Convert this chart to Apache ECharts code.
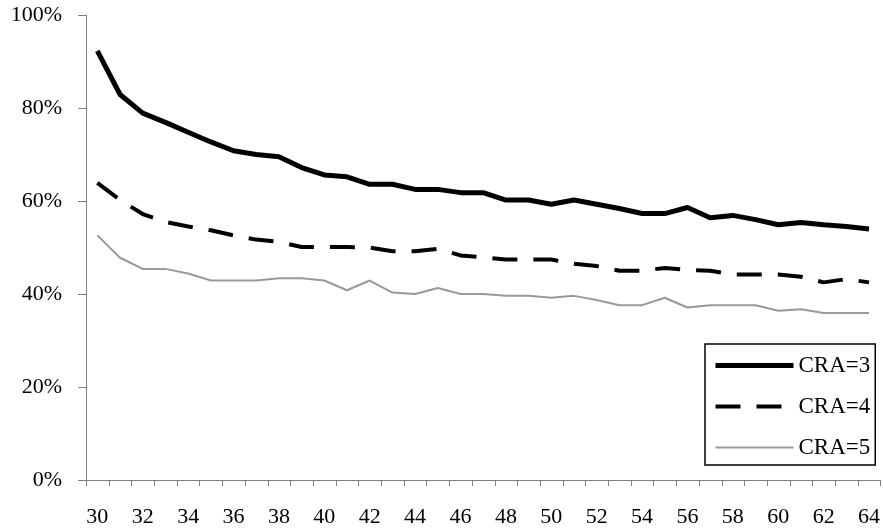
<!DOCTYPE html>
<html>
<head>
<meta charset="utf-8">
<script src="https://cdn.jsdelivr.net/npm/echarts@6/dist/echarts.min.js"></script>
<style>
  html, body { margin: 0; padding: 0; background: #fff; }
  #chart { width: 883px; height: 529px; }
</style>
</head>
<body>
<div id="chart"></div>
<script>
const ages = []
for (let a = 30; a <= 64; a++) ages.push(String(a))

const cra3 = [92.3, 82.9, 78.9, 76.9, 74.8, 72.7, 70.8, 70.0, 69.5, 67.2, 65.6, 65.2, 63.6, 63.6, 62.5, 62.5, 61.8, 61.8,
  60.2, 60.2, 59.3, 60.2, 59.3, 58.4, 57.3, 57.3, 58.6, 56.4, 56.9, 56.0, 54.9, 55.4, 54.9, 54.5, 54.0]
const cra4 = [63.9, 60.2, 57.2, 55.5, 54.5, 53.7, 52.6, 51.7, 51.2, 50.1, 50.1, 50.1, 50.0, 49.2, 49.2, 49.7, 48.3, 47.9,
  47.4, 47.4, 47.4, 46.5, 46.0, 45.0, 45.0, 45.6, 45.2, 45.0, 44.2, 44.2, 44.2, 43.7, 42.5, 43.2, 42.5]
const cra5 = [52.6, 47.8, 45.4, 45.4, 44.4, 42.9, 42.9, 42.9, 43.4, 43.4, 42.9, 40.8, 42.9, 40.3, 40.0, 41.3, 40.0, 40.0,
  39.6, 39.6, 39.2, 39.6, 38.7, 37.6, 37.6, 39.2, 37.1, 37.6, 37.6, 37.6, 36.4, 36.7, 35.9, 35.9, 35.9]

const seriesNames = ['CRA=3', 'CRA=4', 'CRA=5']
const yTicks = [0, 20, 40, 60, 80, 100]

const font = "'Liberation Serif', 'Times New Roman', serif"

const styles = [
  { color: '#000', width: 5, type: 'solid' },
  { color: '#000', width: 4, type: [25, 16] },
  { color: '#999', width: 2, type: 'solid' }
]

const chart = echarts.init(document.getElementById('chart'))
chart.setOption({
  animation: false,
  grid: { left: 86, right: 0, top: 15, bottom: 49 },
  legend: {
    show: true,
    orient: 'vertical',
    left: 705,
    top: 344,
    padding: [10, 5, 6, 8],
    itemWidth: 78,
    itemHeight: 22,
    itemGap: 18,
    borderColor: '#000',
    borderWidth: 1.5,
    backgroundColor: '#fff',
    itemStyle: { color: 'transparent', borderWidth: 0 },
    lineStyle: { width: 'inherit', type: 'inherit' },
    textStyle: { fontFamily: font, fontSize: 23, color: '#000' },
    data: seriesNames
  },
  xAxis: {
    type: 'category',
    data: ages,
    axisLine: { show: true, lineStyle: { color: 'gray', width: 1 } },
    axisTick: { show: false },
    axisLabel: { interval: 1, margin: 26, fontFamily: font, fontSize: 22, color: '#000' }
  },
  yAxis: {
    type: 'value',
    min: 0,
    max: 100,
    interval: 20,
    axisLine: { show: true, lineStyle: { color: 'gray', width: 1 } },
    axisTick: { show: false },
    axisLabel: { margin: 24, fontFamily: font, fontSize: 22, color: '#000', formatter: '{value}%' },
    splitLine: { show: false }
  },
  series: [cra3, cra4, cra5].map((d, i) => ({
    name: seriesNames[i],
    type: 'line',
    data: d,
    symbol: 'none',
    lineStyle: styles[i],
    itemStyle: { color: styles[i].color }
  }))
})

// tick marks, placed through the chart's own axis scales
const px = (v) => chart.convertToPixel({ xAxisIndex: 0 }, v)
const py = (v) => chart.convertToPixel({ yAxisIndex: 0 }, v)
const band = px(ages[1]) - px(ages[0])
const x0 = px(ages[0]) - band / 2
const yBase = py(0)
const tickLines = []
for (let k = 0; k <= ages.length; k++) {
  const x = Math.round(x0 + k * band) + 0.5
  tickLines.push({ type: 'line', silent: true, shape: { x1: x, y1: yBase, x2: x, y2: yBase + 6 },
    style: { stroke: 'gray', lineWidth: 1 } })
}
yTicks.forEach(v => {
  const y = Math.round(py(v)) + 0.5
  tickLines.push({ type: 'line', silent: true, shape: { x1: x0 - 8, y1: y, x2: x0, y2: y },
    style: { stroke: 'gray', lineWidth: 1 } })
})
chart.setOption({ graphic: { elements: tickLines } })
</script>
</body>
</html>
